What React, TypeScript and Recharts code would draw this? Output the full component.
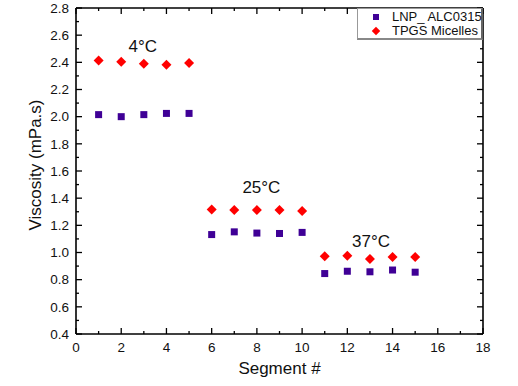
import { ReferenceDot, ReferenceLine, Scatter, ScatterChart, XAxis, YAxis } from "recharts";

const segments = [1, 2, 3, 4, 5, 6, 7, 8, 9, 10, 11, 12, 13, 14, 15];
const lnpValues = [2.015, 2.0, 2.015, 2.024, 2.024, 1.132, 1.152, 1.143, 1.14, 1.148, 0.845, 0.862, 0.858, 0.871, 0.855];
const tpgsValues = [2.414, 2.405, 2.39, 2.382, 2.396, 1.316, 1.312, 1.312, 1.312, 1.305, 0.972, 0.976, 0.953, 0.967, 0.967];

const xTicks = [0, 1, 2, 3, 4, 5, 6, 7, 8, 9, 10, 11, 12, 13, 14, 15, 16, 17, 18];
const yTicks = [0.4, 0.5, 0.6, 0.7, 0.8, 0.9, 1.0, 1.1, 1.2, 1.3, 1.4, 1.5, 1.6, 1.7, 1.8, 1.9, 2.0, 2.1, 2.2, 2.3, 2.4, 2.5, 2.6, 2.7, 2.8];

const tempLabels = ["4°C", "25°C", "37°C"];
const tempLabelX = [2.95, 8.2, 13.05];
const tempLabelY = [2.52, 1.475, 1.08];

const lnpData = segments.map((s, i) => ({ x: s, y: lnpValues[i] }));
const tpgsData = segments.map((s, i) => ({ x: s, y: tpgsValues[i] }));

const FONT = "'Liberation Sans', Arial, sans-serif";
const PURPLE = "#3f0096";
const RED = "#ff0000";

const W = 518;
const H = 386;
const margin = { top: 8, right: 35, bottom: 0, left: 0 };
const Y_AXIS_W = 76;
const X_AXIS_H = 52;
// plot size, used to mirror ticks onto the top and right edges
const PLOT_W = W - margin.left - margin.right - Y_AXIS_W;
const PLOT_H = H - margin.top - margin.bottom - X_AXIS_H;

const isMajorX = (v: number) => v % 2 === 0;
const isMajorY = (v: number) => Math.round(v * 10) % 2 === 0;

function BottomTick({ x, y, payload }: any) {
  const major = isMajorX(payload.value);
  const len = major ? 6 : 3;
  const top = y - PLOT_H;
  return (
    <g>
      <line x1={x} x2={x} y1={y} y2={y - len} stroke="#000" strokeWidth={1.3} />
      <line x1={x} x2={x} y1={top} y2={top + len} stroke="#000" strokeWidth={1.3} />
      {major && (
        <text x={x} y={y + 18} textAnchor="middle" fontSize={13.5} fontFamily={FONT} fill="#111">
          {payload.value}
        </text>
      )}
    </g>
  );
}

function LeftTick({ x, y, payload }: any) {
  const major = isMajorY(payload.value);
  const len = major ? 6 : 3;
  const right = x + PLOT_W;
  return (
    <g>
      <line x1={x} x2={x + len} y1={y} y2={y} stroke="#000" strokeWidth={1.3} />
      <line x1={right} x2={right - len} y1={y} y2={y} stroke="#000" strokeWidth={1.3} />
      {major && (
        <text x={x - 7} y={y + 4.7} textAnchor="end" fontSize={13.5} fontFamily={FONT} fill="#111">
          {payload.value.toFixed(1)}
        </text>
      )}
    </g>
  );
}

const squareShape = (props: any) => (
  <rect x={props.cx - 3.5} y={props.cy - 3.5} width={7} height={7} fill={PURPLE} />
);

const diamondShape = (props: any) => {
  const { cx, cy } = props;
  return <polygon points={`${cx},${cy - 5} ${cx + 5},${cy} ${cx},${cy + 5} ${cx - 5},${cy}`} fill={RED} />;
};

const tempText = (text: string) => (props: any) => (
  <text x={props.cx} y={props.cy} textAnchor="middle" dominantBaseline="central" fontSize={17} fontFamily={FONT} fill="#111">
    {text}
  </text>
);

export default function App() {
  return (
    <div style={{ position: "absolute", left: 0, top: 0, width: W, height: H, background: "#fff" }}>
      <ScatterChart width={W} height={H} margin={margin}>
        <XAxis
          xAxisId="b"
          type="number"
          dataKey="x"
          domain={[0, 18]}
          ticks={xTicks}
          interval={0}
          height={X_AXIS_H}
          tickSize={0}
          tickMargin={0}
          tick={<BottomTick />}
          axisLine={{ stroke: "#000", strokeWidth: 1.6 }}
          label={{ value: "Segment #", position: "insideBottom", offset: 12, fontSize: 17, fontFamily: FONT, fill: "#111" }}
        />
        <YAxis
          yAxisId="l"
          type="number"
          dataKey="y"
          domain={[0.4, 2.8]}
          ticks={yTicks}
          interval={0}
          width={Y_AXIS_W}
          tickSize={0}
          tickMargin={0}
          tick={<LeftTick />}
          axisLine={{ stroke: "#000", strokeWidth: 1.6 }}
          label={{
            content: () => (
              <text
                x={35}
                y={165}
                transform="rotate(-90 35 165)"
                textAnchor="middle"
                dominantBaseline="central"
                fontSize={17}
                fontFamily={FONT}
                fill="#111"
              >
                Viscosity (mPa.s)
              </text>
            ),
          }}
        />
        <ReferenceLine xAxisId="b" yAxisId="l" y={2.8} stroke="#000" strokeWidth={1.6} />
        <ReferenceLine xAxisId="b" yAxisId="l" x={18} stroke="#000" strokeWidth={1.6} />
        <Scatter name="LNP_ ALC0315" data={lnpData} xAxisId="b" yAxisId="l" shape={squareShape} isAnimationActive={false} />
        <Scatter name="TPGS Micelles" data={tpgsData} xAxisId="b" yAxisId="l" shape={diamondShape} isAnimationActive={false} />
        {tempLabels.map((t, i) => (
          <ReferenceDot key={t} xAxisId="b" yAxisId="l" x={tempLabelX[i]} y={tempLabelY[i]} shape={tempText(t)} />
        ))}
      </ScatterChart>
      <div
        style={{
          position: "absolute",
          left: 357,
          top: 8,
          width: 126,
          height: 32,
          border: "1px solid #999",
          borderRight: "2px solid #666",
          borderBottom: "2px solid #888",
          boxSizing: "border-box",
          background: "#fff",
          fontFamily: FONT,
          fontSize: 13,
          color: "#111",
        }}
      >
        <div style={{ position: "absolute", left: 15, top: 5, width: 6, height: 6, background: PURPLE }} />
        <div style={{ position: "absolute", left: 34, top: 0, lineHeight: "16px", whiteSpace: "nowrap" }}>LNP_ ALC0315</div>
        <div
          style={{
            position: "absolute",
            left: 15,
            top: 19,
            width: 6,
            height: 6,
            background: RED,
            transform: "rotate(45deg)",
          }}
        />
        <div style={{ position: "absolute", left: 34, top: 14, lineHeight: "16px", whiteSpace: "nowrap" }}>TPGS Micelles</div>
      </div>
    </div>
  );
}
